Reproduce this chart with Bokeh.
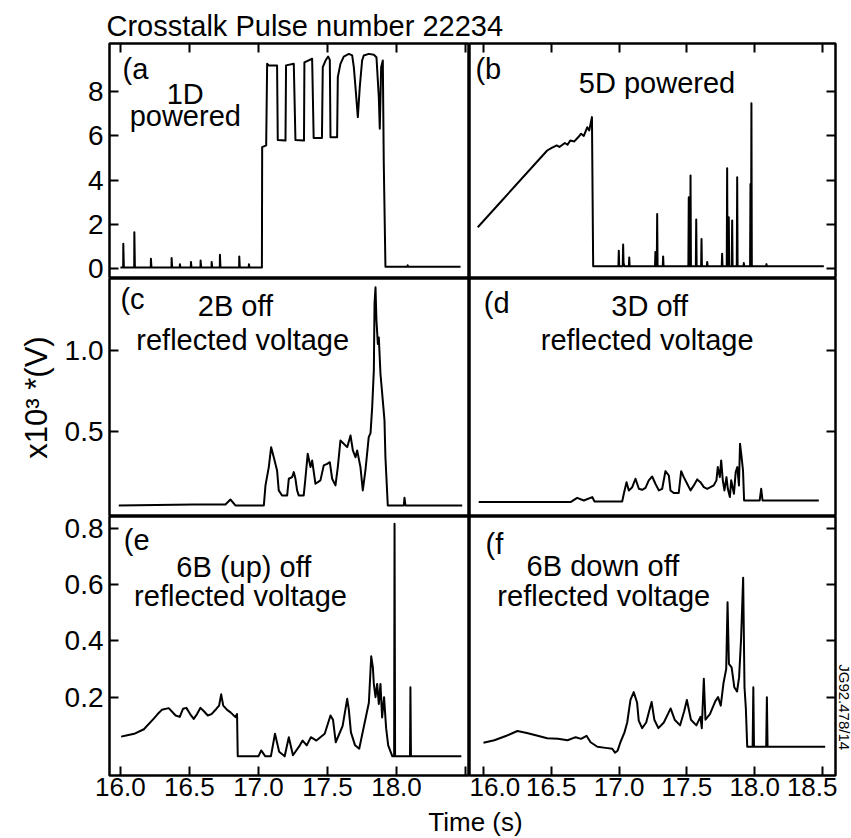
import math
from bokeh.plotting import figure
from bokeh.models import (Range1d, LinearAxis, FixedTicker, Label,
                          NumeralTickFormatter, ColumnDataSource)
from bokeh.layouts import column, row
from bokeh.embed import file_html
from bokeh.resources import INLINE

# ---------------- texts ----------------
TITLE = "Crosstalk Pulse number 22234"
X_LABEL = "Time (s)"
Y_LABEL = "x10³ *(V)"
CODE = "JG92.478/14"

# ---------------- ticks ----------------
x_ticks = [16.0, 16.5, 17.0, 17.5, 18.0, 18.5]
y_ticks_top = [0, 2, 4, 6, 8]
y_ticks_mid = [0.5, 1.0]
y_ticks_bot = [0.2, 0.4, 0.6, 0.8]

# ---------------- data (time s, value) ----------------
a_pts = [
    (16.000, 0.05), (16.020, 0.05), (16.021, 1.12), (16.025, 0.05),
    (16.100, 0.05), (16.101, 1.64), (16.105, 0.05),
    (16.220, 0.05), (16.221, 0.44), (16.225, 0.05),
    (16.370, 0.05), (16.371, 0.48), (16.375, 0.05),
    (16.430, 0.05), (16.431, 0.20), (16.435, 0.05),
    (16.510, 0.05), (16.511, 0.30), (16.515, 0.05),
    (16.580, 0.05), (16.581, 0.36), (16.585, 0.05),
    (16.660, 0.05), (16.661, 0.30), (16.665, 0.05),
    (16.720, 0.05), (16.721, 0.62), (16.725, 0.05),
    (16.860, 0.05), (16.861, 0.55), (16.865, 0.05),
    (16.930, 0.05), (16.931, 0.20), (16.935, 0.05),
    (17.025, 0.05), (17.027, 5.49), (17.056, 5.57), (17.063, 9.26), (17.075, 9.19), (17.135, 9.19),
    (17.140, 5.82), (17.196, 5.79), (17.200, 9.19), (17.256, 9.26),
    (17.268, 5.82), (17.330, 5.79), (17.333, 9.33), (17.389, 9.49),
    (17.400, 5.91), (17.460, 5.91), (17.466, 9.11), (17.486, 9.41), (17.505, 9.59), (17.517, 9.44),
    (17.522, 5.94), (17.570, 5.94), (17.575, 8.66), (17.594, 9.26), (17.618, 9.59), (17.655, 9.71),
    (17.679, 9.64), (17.691, 9.11), (17.703, 8.20), (17.720, 6.85), (17.734, 8.20), (17.751, 9.41),
    (17.763, 9.64), (17.800, 9.71), (17.836, 9.67), (17.855, 9.56), (17.872, 7.75), (17.879, 6.32),
    (17.889, 9.11), (17.901, 9.41), (17.908, 4.74), (17.920, 0.08),
    (18.080, 0.08), (18.081, 0.15), (18.085, 0.08), (18.464, 0.08),
]

b_pts = [
    (15.958, 1.87), (16.150, 3.17), (16.470, 5.34), (16.500, 5.45), (16.540, 5.57), (16.560, 5.50),
    (16.600, 5.68), (16.620, 5.60), (16.640, 5.79), (16.670, 5.75), (16.700, 5.95), (16.720, 6.10),
    (16.740, 6.00), (16.765, 6.39), (16.780, 6.25), (16.800, 6.85), (16.809, 0.10),
    (16.995, 0.10), (16.998, 0.81), (17.001, 0.10),
    (17.027, 0.10), (17.030, 1.09), (17.033, 0.25), (17.040, 0.10),
    (17.072, 0.10), (17.075, 0.50), (17.078, 0.10),
    (17.265, 0.10), (17.268, 0.75), (17.272, 0.10), (17.278, 0.10), (17.281, 2.47), (17.284, 0.10),
    (17.322, 0.10), (17.325, 0.55), (17.328, 0.10),
    (17.511, 0.10), (17.514, 3.23), (17.517, 0.10), (17.524, 0.10), (17.527, 4.21), (17.530, 0.10),
    (17.566, 0.10), (17.569, 2.22), (17.572, 0.10),
    (17.605, 0.10), (17.608, 1.34), (17.611, 0.10),
    (17.647, 0.10), (17.650, 0.30), (17.653, 0.10),
    (17.757, 0.10), (17.760, 0.67), (17.763, 0.10),
    (17.794, 0.10), (17.797, 4.54), (17.800, 0.10),
    (17.806, 0.10), (17.809, 2.32), (17.812, 0.10),
    (17.831, 0.10), (17.834, 2.17), (17.837, 0.10),
    (17.868, 0.10), (17.871, 4.13), (17.874, 0.10),
    (17.917, 0.10), (17.920, 0.25), (17.923, 0.10),
    (17.966, 0.10), (17.969, 3.83), (17.972, 0.10), (17.973, 0.10), (17.976, 7.48), (17.979, 0.10),
    (18.084, 0.10), (18.087, 0.20), (18.090, 0.10), (18.510, 0.10),
]

c_pts = [
    (15.988, 0.043), (16.531, 0.049), (16.761, 0.049), (16.797, 0.080), (16.833, 0.043), (17.039, 0.043),
    (17.051, 0.167), (17.075, 0.280), (17.092, 0.403), (17.111, 0.341), (17.135, 0.259), (17.147, 0.136),
    (17.171, 0.105), (17.208, 0.105), (17.220, 0.208), (17.244, 0.218), (17.256, 0.249), (17.268, 0.208),
    (17.280, 0.136), (17.292, 0.105), (17.328, 0.105), (17.340, 0.208), (17.357, 0.362), (17.377, 0.280),
    (17.389, 0.321), (17.413, 0.177), (17.449, 0.198), (17.473, 0.290), (17.498, 0.300), (17.517, 0.310),
    (17.534, 0.208), (17.558, 0.167), (17.575, 0.280), (17.594, 0.444), (17.618, 0.424), (17.643, 0.403),
    (17.667, 0.475), (17.684, 0.383), (17.703, 0.341), (17.715, 0.383), (17.739, 0.280), (17.756, 0.136),
    (17.775, 0.259), (17.799, 0.465), (17.812, 0.490), (17.824, 0.650), (17.836, 0.877), (17.841, 1.290),
    (17.848, 1.390), (17.855, 1.185), (17.865, 1.040), (17.872, 1.080), (17.884, 0.856), (17.903, 0.670),
    (17.913, 0.570), (17.920, 0.340), (17.937, 0.043),
    (18.053, 0.043), (18.058, 0.090), (18.065, 0.043), (18.476, 0.043),
]

d_pts = [
    (15.965, 0.064), (16.642, 0.064), (16.691, 0.090), (16.740, 0.074), (16.802, 0.095), (16.819, 0.068),
    (17.023, 0.068), (17.035, 0.115), (17.055, 0.187), (17.072, 0.136), (17.097, 0.156), (17.121, 0.208),
    (17.146, 0.146), (17.170, 0.140), (17.195, 0.152), (17.219, 0.198), (17.244, 0.222), (17.268, 0.177),
    (17.293, 0.136), (17.318, 0.146), (17.342, 0.255), (17.367, 0.228), (17.379, 0.136), (17.403, 0.120),
    (17.440, 0.120), (17.458, 0.255), (17.477, 0.218), (17.502, 0.177), (17.527, 0.136), (17.551, 0.167),
    (17.576, 0.204), (17.600, 0.187), (17.625, 0.156), (17.650, 0.146), (17.674, 0.156), (17.698, 0.167),
    (17.718, 0.198), (17.728, 0.280), (17.743, 0.218), (17.753, 0.321), (17.765, 0.198), (17.777, 0.136),
    (17.792, 0.218), (17.802, 0.146), (17.817, 0.095), (17.827, 0.198), (17.847, 0.115), (17.860, 0.249),
    (17.872, 0.280), (17.884, 0.167), (17.892, 0.424), (17.902, 0.352), (17.914, 0.259), (17.922, 0.074),
    (18.037, 0.074), (18.048, 0.146), (18.058, 0.074), (18.473, 0.074),
]

e_pts = [
    (16.005, 0.060), (16.050, 0.065), (16.100, 0.070), (16.170, 0.086), (16.240, 0.123), (16.270, 0.140),
    (16.300, 0.155), (16.350, 0.161), (16.400, 0.135), (16.430, 0.130), (16.454, 0.159), (16.478, 0.162),
    (16.505, 0.140), (16.531, 0.123), (16.555, 0.140), (16.580, 0.162), (16.605, 0.150), (16.633, 0.135),
    (16.660, 0.140), (16.696, 0.159), (16.715, 0.170), (16.730, 0.210), (16.745, 0.170), (16.773, 0.155),
    (16.800, 0.145), (16.833, 0.129), (16.845, 0.140), (16.850, -0.010),
    (17.000, -0.010), (17.020, 0.011), (17.050, -0.010), (17.090, -0.010), (17.120, 0.070), (17.150, 0.006),
    (17.190, -0.010), (17.220, 0.058), (17.250, -0.006), (17.300, 0.029), (17.320, 0.046), (17.350, 0.029),
    (17.380, 0.058), (17.420, 0.046), (17.480, 0.070), (17.522, 0.135), (17.540, 0.120), (17.560, 0.040),
    (17.580, 0.063), (17.610, 0.098), (17.643, 0.194), (17.655, 0.155), (17.670, 0.075), (17.700, 0.029),
    (17.730, 0.017), (17.760, 0.087), (17.800, 0.180), (17.817, 0.345), (17.829, 0.306), (17.836, 0.247),
    (17.848, 0.200), (17.860, 0.247), (17.872, 0.176), (17.884, 0.247), (17.896, 0.128), (17.910, 0.200),
    (17.925, 0.090), (17.940, 0.029), (17.970, -0.010), (17.983, -0.010), (17.986, 0.815), (17.990, -0.010),
    (18.098, -0.010), (18.101, 0.235), (18.105, -0.010), (18.470, -0.010),
]

f_pts = [
    (16.000, 0.038), (16.080, 0.047), (16.170, 0.063), (16.250, 0.080), (16.320, 0.073), (16.400, 0.063),
    (16.470, 0.054), (16.550, 0.052), (16.620, 0.047), (16.680, 0.058), (16.720, 0.052), (16.760, 0.063),
    (16.790, 0.040), (16.840, 0.024), (16.900, 0.020), (16.950, 0.017), (16.970, 0.003), (16.990, 0.011),
    (17.010, 0.040), (17.040, 0.075), (17.060, 0.110), (17.084, 0.190), (17.108, 0.218), (17.133, 0.180),
    (17.145, 0.117), (17.170, 0.090), (17.200, 0.110), (17.220, 0.147), (17.240, 0.183), (17.260, 0.120),
    (17.290, 0.090), (17.330, 0.110), (17.360, 0.140), (17.380, 0.160), (17.410, 0.120), (17.450, 0.100),
    (17.480, 0.150), (17.500, 0.190), (17.530, 0.120), (17.570, 0.100), (17.600, 0.130), (17.610, 0.090),
    (17.625, 0.265), (17.637, 0.120), (17.670, 0.140), (17.710, 0.186), (17.730, 0.200), (17.750, 0.170),
    (17.770, 0.250), (17.790, 0.300), (17.800, 0.537), (17.810, 0.318), (17.830, 0.306), (17.850, 0.235),
    (17.870, 0.220), (17.885, 0.270), (17.900, 0.410), (17.915, 0.624), (17.925, 0.235), (17.935, 0.160),
    (17.945, 0.024), (17.985, 0.024), (17.990, 0.235), (17.995, 0.024),
    (18.085, 0.024), (18.090, 0.200), (18.095, 0.024), (18.520, 0.024),
]

# ---------------- styling / layout ----------------
FONT = "Liberation Sans"
YTICK_FS = "28px"
XTICK_FS = "26px"
TXT_FS = "29px"
LEFT_X = (15.921, 18.529)
RIGHT_X = (15.897, 18.596)
Y_TOP = (-0.45, 10.18)
Y_MID = (-0.025, 1.444)
Y_BOT = (-0.078, 0.841)
LEFT_W = 469
BORDER_L, BORDER_R = 109, 16
H_HEAD, H_R1, H_R2, H_FOOT = 41, 237, 238, 31
B_BOT = 32
H_R3 = 259 + B_BOT


def bare(w, h, xr, yr):
    p = figure(width=w, height=h, x_range=Range1d(*xr), y_range=Range1d(*yr),
               x_axis_location=None, y_axis_location=None, toolbar_location=None,
               output_backend="svg", min_border=0, title=None)
    for g in p.grid:
        g.visible = False
    p.outline_line_color = None
    return p


def make_panel(w, h, xr, yr, left=0, right=0, top=0, bottom=0):
    p = figure(width=w, height=h, x_range=Range1d(*xr), y_range=Range1d(*yr),
               x_axis_location=None, y_axis_location=None, toolbar_location=None,
               output_backend="svg", min_border_left=left, min_border_right=right,
               min_border_top=top, min_border_bottom=bottom, title=None)
    for g in p.grid:
        g.visible = False
    p.outline_line_color = "black"
    p.outline_line_width = 2.5
    p.background_fill_color = "white"
    p.border_fill_color = "white"
    return p


def add_axis(p, side, ticks, fmt=None, labels=True, overrides=None, size=YTICK_FS, standoff=6):
    ax = LinearAxis(ticker=FixedTicker(ticks=ticks, minor_ticks=[]),
                    major_tick_in=9, major_tick_out=0,
                    minor_tick_in=0, minor_tick_out=0,
                    axis_line_color=None,
                    major_tick_line_color="black", major_tick_line_width=2)
    if labels:
        ax.major_label_text_font = FONT
        ax.major_label_text_font_size = size
        ax.major_label_text_color = "black"
        ax.major_label_standoff = standoff
        if fmt:
            ax.formatter = NumeralTickFormatter(format=fmt)
        if overrides:
            ax.major_label_overrides = overrides
    else:
        ax.major_label_overrides = {t: "" for t in ticks}
        ax.major_label_text_font_size = "1px"
        ax.major_label_standoff = 0
    p.add_layout(ax, side)
    return ax


def draw(p, pts):
    t = [q[0] for q in pts]
    v = [q[1] for q in pts]
    p.line(x="t", y="v", source=ColumnDataSource(dict(t=t, v=v)),
           line_color="black", line_width=2, line_join="round")


def text(p, x, y, s, align="center", size=TXT_FS, angle=0.0, baseline="alphabetic"):
    p.add_layout(Label(x=x, y=y, text=s, text_font=FONT, text_font_size=size,
                       text_color="black", text_align=align,
                       text_baseline=baseline, angle=angle))


# header
header = bare(851, H_HEAD, (0, 851), (0, H_HEAD))
text(header, 106, 16, TITLE, align="left")

# row 1
pa = make_panel(LEFT_W, H_R1, LEFT_X, Y_TOP, left=BORDER_L, top=2)
add_axis(pa, "left", y_ticks_top, fmt="0")
add_axis(pa, "above", x_ticks, labels=False)
draw(pa, a_pts)
text(pa, 16.015, 9.04, "(a", align="left")
text(pa, 16.47, 7.90, "1D")
text(pa, 16.47, 6.88, "powered")

pb = make_panel(851 - LEFT_W, H_R1, RIGHT_X, Y_TOP, right=BORDER_R, top=2)
add_axis(pb, "right", y_ticks_top, labels=False)
add_axis(pb, "above", x_ticks, labels=False)
draw(pb, b_pts)
text(pb, 15.941, 9.04, "(b", align="left")
text(pb, 17.28, 8.40, "5D powered")

# row 2
pc = make_panel(LEFT_W, H_R2, LEFT_X, Y_MID, left=BORDER_L)
axc = add_axis(pc, "left", y_ticks_mid, fmt="0.0")
axc.axis_label = Y_LABEL
axc.axis_label_text_font = FONT
axc.axis_label_text_font_size = "31px"
axc.axis_label_text_font_style = "normal"
axc.axis_label_text_color = "black"
axc.axis_label_standoff = 8
draw(pc, c_pts)
text(pc, 16.0, 1.317, "(c", align="left")
text(pc, 16.833, 1.276, "2B off")
text(pc, 16.886, 1.062, "reflected voltage")

pd_ = make_panel(851 - LEFT_W, H_R2, RIGHT_X, Y_MID, right=BORDER_R)
add_axis(pd_, "right", y_ticks_mid, labels=False)
draw(pd_, d_pts)
text(pd_, 16.002, 1.294, "(d", align="left")
text(pd_, 17.226, 1.276, "3D off")
text(pd_, 17.207, 1.062, "reflected voltage")

# row 3
pe = make_panel(LEFT_W, H_R3, LEFT_X, Y_BOT, left=BORDER_L, bottom=B_BOT)
add_axis(pe, "left", y_ticks_bot, fmt="0.0")
add_axis(pe, "below", x_ticks, fmt="0.0", overrides={18.5: ""}, size=XTICK_FS, standoff=2)
draw(pe, e_pts)
text(pe, 16.024, 0.756, "(e", align="left")
text(pe, 16.894, 0.661, "6B (up) off")
text(pe, 16.87, 0.558, "reflected voltage")

pf = make_panel(851 - LEFT_W - 14, H_R3, RIGHT_X, Y_BOT, right=2, bottom=B_BOT)
add_axis(pf, "right", y_ticks_bot, labels=False)
add_axis(pf, "below", x_ticks, fmt="0.0", size=XTICK_FS, standoff=2)
draw(pf, f_pts)
text(pf, 16.015, 0.744, "(f", align="left")
text(pf, 16.881, 0.667, "6B down off")
text(pf, 16.887, 0.558, "reflected voltage")

side = bare(14, H_R3, (0, 14), (0, H_R3))
text(side, 7, 125, CODE, align="left", size="15px", angle=-math.pi / 2, baseline="middle")

# footer
footer = bare(851, H_FOOT, (0, 851), (0, H_FOOT))
text(footer, 475, 17, X_LABEL, size="26px")

layout = column(header, row(pa, pb), row(pc, pd_), row(pe, pf, side), footer)

open("out.html", "w").write(file_html(layout, INLINE))
